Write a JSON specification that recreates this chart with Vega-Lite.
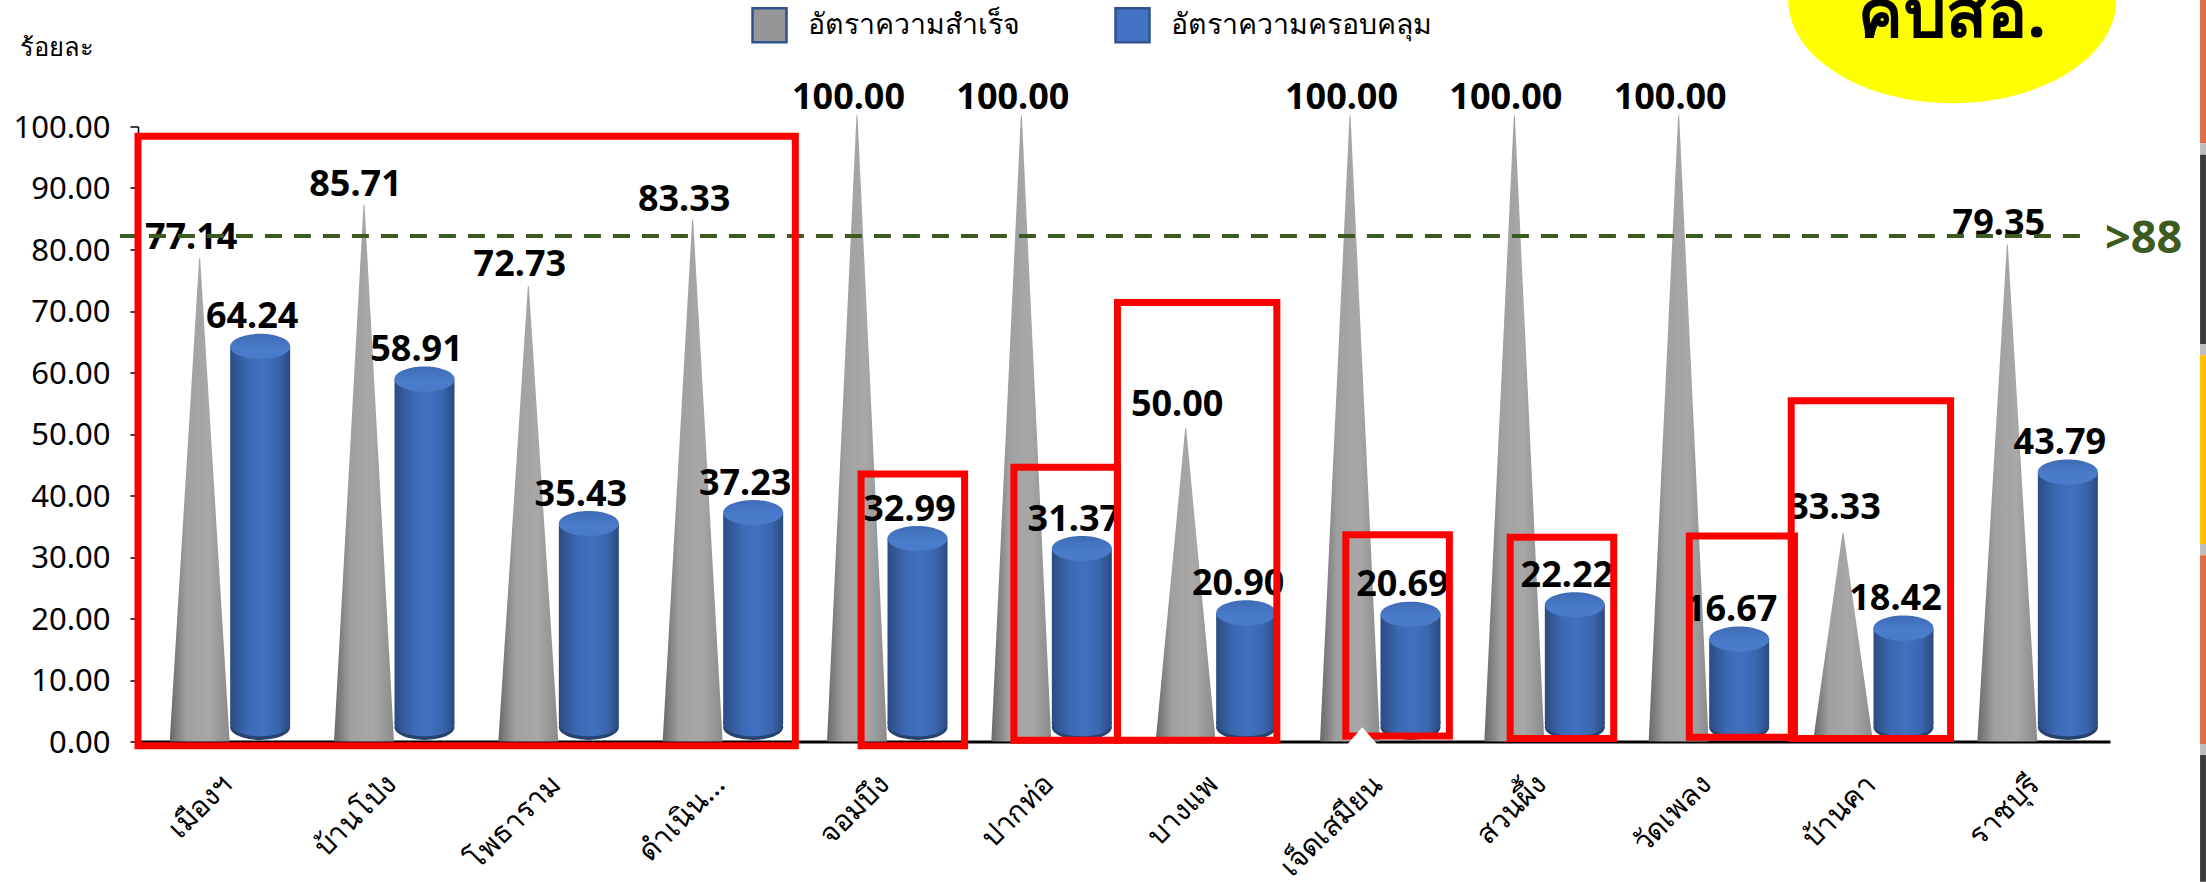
{
"$schema":"https://vega.github.io/schema/vega-lite/v6.json",
"width":1972,"height":635,
"autosize":{"type":"none"},
"padding":{"left":138,"top":106.5,"right":96,"bottom":140.5},
"background":"white",
"config":{"view":{"stroke":null},"font":"Noto Sans"},
"datasets":{
"bars":[
{"district":"เมืองฯ","series":"อัตราความสำเร็จ","value":77.14,"base":0},
{"district":"บ้านโป่ง","series":"อัตราความสำเร็จ","value":85.71,"base":0},
{"district":"โพธาราม","series":"อัตราความสำเร็จ","value":72.73,"base":0},
{"district":"ดำเนิน...","series":"อัตราความสำเร็จ","value":83.33,"base":0},
{"district":"จอมบึง","series":"อัตราความสำเร็จ","value":100,"base":0},
{"district":"ปากท่อ","series":"อัตราความสำเร็จ","value":100,"base":0},
{"district":"บางแพ","series":"อัตราความสำเร็จ","value":50,"base":0},
{"district":"เจ็ดเสมียน","series":"อัตราความสำเร็จ","value":100,"base":0},
{"district":"สวนผึ้ง","series":"อัตราความสำเร็จ","value":100,"base":0},
{"district":"วัดเพลง","series":"อัตราความสำเร็จ","value":100,"base":0},
{"district":"บ้านคา","series":"อัตราความสำเร็จ","value":33.33,"base":0},
{"district":"ราชบุรี","series":"อัตราความสำเร็จ","value":79.35,"base":0},
{"district":"เมืองฯ","series":"อัตราความครอบคลุม","value":64.24},
{"district":"บ้านโป่ง","series":"อัตราความครอบคลุม","value":58.91},
{"district":"โพธาราม","series":"อัตราความครอบคลุม","value":35.43},
{"district":"ดำเนิน...","series":"อัตราความครอบคลุม","value":37.23},
{"district":"จอมบึง","series":"อัตราความครอบคลุม","value":32.99},
{"district":"ปากท่อ","series":"อัตราความครอบคลุม","value":31.37},
{"district":"บางแพ","series":"อัตราความครอบคลุม","value":20.9},
{"district":"เจ็ดเสมียน","series":"อัตราความครอบคลุม","value":20.69},
{"district":"สวนผึ้ง","series":"อัตราความครอบคลุม","value":22.22},
{"district":"วัดเพลง","series":"อัตราความครอบคลุม","value":16.67},
{"district":"บ้านคา","series":"อัตราความครอบคลุม","value":18.42},
{"district":"ราชบุรี","series":"อัตราความครอบคลุม","value":43.79}
],
"boxes":[
{"a":0,"b":4.0,"low":-0.7,"high":98.4},
{"a":4.4,"b":5.03,"low":-0.7,"high":43.5},
{"a":5.33,"b":5.96,"low":0.2,"high":44.6},
{"a":5.96,"b":6.93,"low":0.2,"high":71.4},
{"a":7.35,"b":7.98,"low":0.9,"high":33.6},
{"a":8.35,"b":8.98,"low":0.5,"high":33.2},
{"a":9.44,"b":10.08,"low":0.7,"high":33.4},
{"a":10.06,"b":11.03,"low":0.5,"high":55.4}
],
"target":[{"a":-0.11,"b":11.86,"level":82.2,"label":">88"}],
"callout":[{"a":11.04,"level":120.6,"textLevel":114.6,"label":"คปสอ."}],
"unit":[{"a":-0.49,"level":112.8,"label":"ร้อยละ"}],
"notch":[{"a":7.45,"level":0.7}],
"strip":[
{"a":12.548,"b":12.584,"low":97.3,"high":120.6,"tone":"orange"},
{"a":12.548,"b":12.584,"low":95.4,"high":97.3,"tone":"gray"},
{"a":12.548,"b":12.584,"low":64.6,"high":95.4,"tone":"dark"},
{"a":12.548,"b":12.584,"low":62.8,"high":64.6,"tone":"gray"},
{"a":12.548,"b":12.584,"low":32.1,"high":62.8,"tone":"yellow"},
{"a":12.548,"b":12.584,"low":30.3,"high":32.1,"tone":"gray"},
{"a":12.548,"b":12.584,"low":-0.4,"high":30.3,"tone":"orange"},
{"a":12.548,"b":12.584,"low":-2.2,"high":-0.4,"tone":"gray"},
{"a":12.548,"b":12.584,"low":-22.8,"high":-2.2,"tone":"dark"}
]
},
"resolve":{"scale":{"x":"independent","y":"independent","color":"independent"}},
"layer":[
{
"data":{"name":"bars"},
"transform":[{"filter":"datum.series==='อัตราความสำเร็จ'"},{"fold":["value","base"],"as":["part","level"]}],
"mark":{"type":"trail","clip":true,"xOffset":-20.5,
"fill":{"x1":0,"x2":1,"y1":0,"y2":0,"gradient":"linear","stops":[{"offset":0,"color":"#696969"},{"offset":0.28,"color":"#a0a0a0"},{"offset":0.65,"color":"#a8a8a8"},{"offset":1,"color":"#8b8b8b"}]}},
"encoding":{
"x":{"field":"district","type":"nominal","sort":null,"axis":null,"scale":{"paddingInner":0,"paddingOuter":0}},
"y":{"field":"level","type":"quantitative","stack":null,"axis":null,"scale":{"domain":[0,100],"range":[635,9],"nice":false}},
"detail":{"field":"district"},
"size":{"field":"part","type":"nominal","legend":null,"scale":{"domain":["value","base"],"range":[0,60]}}
}
},
{
"data":{"name":"bars"},
"encoding":{
"x":{"field":"district","type":"nominal","sort":null,"scale":{"paddingInner":0,"paddingOuter":0},
"axis":{"title":null,"orient":"bottom","labelAngle":-45,"labelAlign":"right","labelBaseline":"middle","labelFontSize":29,"labelColor":"#000","labelPadding":38,"labelOffset":7,"ticks":false,"domainColor":"#000","domainWidth":3,"labelOverlap":false,"labelFont":"Noto Sans"}},
"y":{"field":"value","type":"quantitative","stack":null,"scale":{"domain":[0,100],"range":[635,20],"nice":false},
"axis":{"title":null,"orient":"left","values":[0,10,20,30,40,50,60,70,80,90,100],"format":".2f","grid":false,"labelFontSize":31,"labelColor":"#000","labelFont":"Noto Sans","tickColor":"#000","tickSize":8,"tickWidth":1.5,"labelPadding":20,"labelOffset":1.5,"domainColor":"#000","domainWidth":1.5}}
},
"layer":[
{"mark":{"type":"point","filled":true,"opacity":0},
"encoding":{"color":{"field":"series","type":"nominal","sort":["อัตราความสำเร็จ","อัตราความครอบคลุม"],
"scale":{"domain":["อัตราความสำเร็จ","อัตราความครอบคลุม"],"range":["#969696","#4472c4"]},
"legend":{"title":null,"orient":"none","legendX":613,"legendY":-100,"columns":2,"direction":"horizontal","symbolType":"square","symbolSize":1156,"symbolOpacity":1,"symbolStrokeColor":"#2f528f","symbolStrokeWidth":2.5,"labelFontSize":28.5,"labelColor":"#000","labelFont":"Noto Sans","labelOffset":20,"columnPadding":90,"labelLimit":400}}}},
{"transform":[{"filter":"datum.series==='อัตราความครอบคลุม'"}],
"layer":[
{"mark":{"type":"point","filled":true,"opacity":1,"xOffset":40,"shape":"M-1,0A1,0.42 0 1 1 1,0A1,0.42 0 1 1 -1,0Z","size":3600,"fill":"#27436f"},
"encoding":{"y":{"datum":2.3,"type":"quantitative"}}},
{"mark":{"type":"point","filled":true,"opacity":1,"xOffset":40,"shape":"M-1,0A1,0.42 0 1 1 1,0A1,0.42 0 1 1 -1,0Z","size":3600,
"fill":{"x1":0,"x2":1,"y1":0,"y2":0,"gradient":"linear","stops":[{"offset":0,"color":"#2b4c82"},{"offset":0.3,"color":"#3c69b4"},{"offset":0.55,"color":"#4170c0"},{"offset":0.8,"color":"#3a66ae"},{"offset":1,"color":"#2a4a7e"}]}},
"encoding":{"y":{"datum":2.9,"type":"quantitative"}}},
{"mark":{"type":"bar","width":60,"xOffset":40,
"fill":{"x1":0,"x2":1,"y1":0,"y2":0,"gradient":"linear","stops":[{"offset":0,"color":"#2b4c82"},{"offset":0.3,"color":"#3c69b4"},{"offset":0.55,"color":"#4170c0"},{"offset":0.8,"color":"#3a66ae"},{"offset":1,"color":"#2a4a7e"}]}},
"encoding":{"y2":{"datum":2.9}}},
{"mark":{"type":"point","filled":true,"opacity":1,"xOffset":40,"shape":"M-1,0A1,0.42 0 1 1 1,0A1,0.42 0 1 1 -1,0Z","size":3600,
"fill":{"x1":0,"x2":0,"y1":0,"y2":1,"gradient":"linear","stops":[{"offset":0,"color":"#3f6bb5"},{"offset":0.6,"color":"#4a7ccc"},{"offset":1,"color":"#4a79c8"}]}}}
]},
{"mark":{"type":"text","fontWeight":"bold","font":"Noto Sans","fontSize":36,"color":"#000","baseline":"middle","dy":-29,"xOffset":32},
"transform":[{"filter":"datum.series==='อัตราความครอบคลุม'"}],
"encoding":{"text":{"field":"value","type":"quantitative","format":".2f"}}},
{"mark":{"type":"text","fontWeight":"bold","font":"Noto Sans","fontSize":36,"color":"#000","baseline":"middle","dy":-29,"xOffset":-29},
"transform":[{"filter":"datum.series==='อัตราความสำเร็จ'"}],
"encoding":{"text":{"field":"value","type":"quantitative","format":".2f"}}}
]
},
{
"layer":[
{"data":{"name":"strip"},
"mark":{"type":"rect"},
"encoding":{"x":{"field":"a","type":"quantitative"},"x2":{"field":"b"},"y":{"field":"low","type":"quantitative"},"y2":{"field":"high"},
"color":{"field":"tone","type":"nominal","legend":null,"scale":{"domain":["orange","gray","dark","yellow"],"range":["#dd6b45","#bdbdbd","#3b3b3b","#ffc000"]}}}},
{"data":{"name":"target"},
"mark":{"type":"rule","color":"#3d5a20","strokeWidth":4,"strokeDash":[17,12]},
"encoding":{"x":{"field":"a","type":"quantitative"},"x2":{"field":"b"},"y":{"field":"level","type":"quantitative"}}},
{"data":{"name":"target"},
"mark":{"type":"text","font":"Noto Sans","fontWeight":"bold","fontSize":45,"color":"#3d5a20","align":"left","baseline":"middle","dx":18,"dy":3},
"encoding":{"x":{"field":"b","type":"quantitative"},"y":{"field":"level","type":"quantitative"},"text":{"field":"label"}}},
{"data":{"name":"boxes"},
"mark":{"type":"rect","fillOpacity":0,"stroke":"#ff0000","strokeWidth":7},
"encoding":{"x":{"field":"a","type":"quantitative"},"x2":{"field":"b"},"y":{"field":"low","type":"quantitative"},"y2":{"field":"high"}}},
{"data":{"name":"notch"},
"mark":{"type":"point","filled":true,"opacity":1,"fill":"white","shape":"M0,-0.57L1,0.57L-1,0.57Z","size":1225},
"encoding":{"x":{"field":"a","type":"quantitative"},"y":{"field":"level","type":"quantitative"}}},
{"data":{"name":"callout"},
"mark":{"type":"point","filled":true,"opacity":1,"fill":"#ffff00","shape":"M-1,0A1,0.63 0 1 1 1,0A1,0.63 0 1 1 -1,0Z","size":107584},
"encoding":{"x":{"field":"a","type":"quantitative"},"y":{"field":"level","type":"quantitative"}}},
{"data":{"name":"callout"},
"mark":{"type":"text","font":"Noto Sans","fontWeight":"bold","fontSize":67,"color":"#000","baseline":"alphabetic"},
"encoding":{"x":{"field":"a","type":"quantitative"},"y":{"field":"textLevel","type":"quantitative"},"text":{"field":"label"}}},
{"data":{"name":"unit"},
"mark":{"type":"text","font":"Noto Sans","fontSize":25.5,"color":"#000"},
"encoding":{"x":{"field":"a","type":"quantitative"},"y":{"field":"level","type":"quantitative"},"text":{"field":"label"}}}
],
"encoding":{
"x":{"axis":null,"scale":{"domain":[0,12],"nice":false,"zero":false}},
"y":{"axis":null,"scale":{"domain":[0,100],"range":[635,20],"nice":false,"zero":false}}
}
}
]
}
